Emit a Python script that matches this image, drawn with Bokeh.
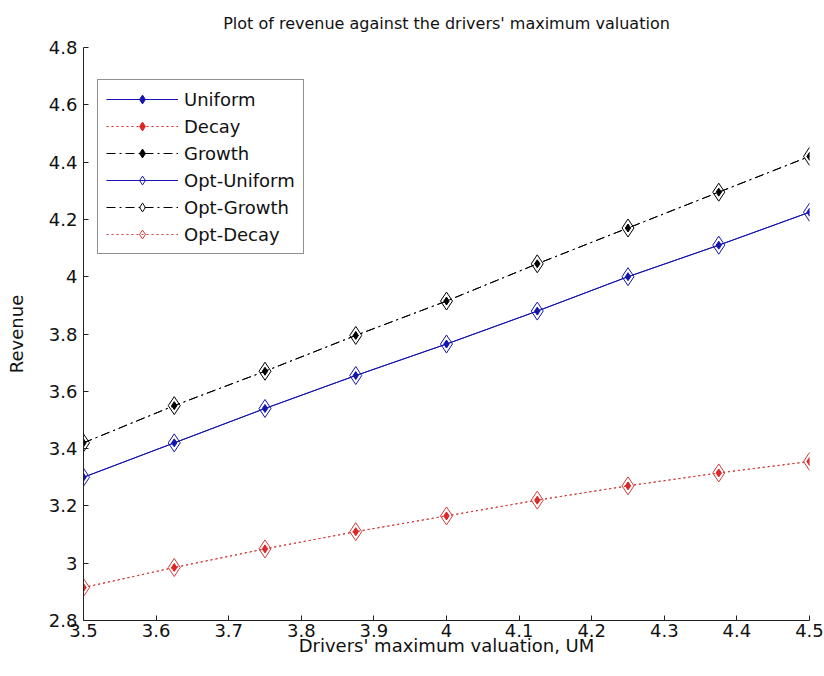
from bokeh.plotting import figure
from bokeh.models import Range1d, FixedTicker, Legend, LegendItem
from bokeh.embed import file_html
from bokeh.resources import INLINE

valuation = [3.5, 3.625, 3.75, 3.875, 4.0, 4.125, 4.25, 4.375, 4.5]
uniform = [3.30, 3.42, 3.54, 3.655, 3.765, 3.88, 4.00, 4.11, 4.225]
decay = [2.915, 2.985, 3.05, 3.11, 3.165, 3.22, 3.27, 3.315, 3.355]
growth = [3.42, 3.55, 3.67, 3.795, 3.915, 4.045, 4.17, 4.295, 4.42]
opt_uniform = [3.30, 3.42, 3.54, 3.655, 3.765, 3.88, 4.00, 4.11, 4.225]
opt_growth = [3.42, 3.55, 3.67, 3.795, 3.915, 4.045, 4.17, 4.295, 4.42]
opt_decay = [2.915, 2.985, 3.05, 3.11, 3.165, 3.22, 3.27, 3.315, 3.355]

x_ticks = [3.5, 3.6, 3.7, 3.8, 3.9, 4.0, 4.1, 4.2, 4.3, 4.4, 4.5]
x_tick_labels = ["3.5", "3.6", "3.7", "3.8", "3.9", "4", "4.1", "4.2", "4.3", "4.4", "4.5"]
y_ticks = [2.8, 3.0, 3.2, 3.4, 3.6, 3.8, 4.0, 4.2, 4.4, 4.6, 4.8]
y_tick_labels = ["2.8", "3", "3.2", "3.4", "3.6", "3.8", "4", "4.2", "4.4", "4.6", "4.8"]

FONT = "DejaVu Sans"
BLUE = "#1414b0"
RED = "#e02424"
RED2 = "#d03c3c"
BLACK = "#000000"
TEXT = "#111111"

p = figure(width=824, height=676, output_backend="svg", toolbar_location=None,
           x_range=Range1d(3.5, 4.5), y_range=Range1d(2.8, 4.8),
           title="Plot of revenue against the drivers' maximum valuation",
           min_border_left=83, min_border_right=15, min_border_top=47, min_border_bottom=56)

p.title.align = "center"
p.title.vertical_align = "top"
p.title.text_font = FONT
p.title.text_font_size = "16px"
p.title.text_font_style = "normal"
p.title.text_color = TEXT
p.title.offset = 0
p.title.standoff = 25

p.outline_line_color = None
p.xgrid.visible = False
p.ygrid.visible = False
p.background_fill_color = "white"
p.border_fill_color = "white"

p.xaxis.ticker = FixedTicker(ticks=x_ticks)
p.xaxis.major_label_overrides = {t: l for t, l in zip(x_ticks, x_tick_labels)}
p.yaxis.ticker = FixedTicker(ticks=y_ticks)
p.yaxis.major_label_overrides = {t: l for t, l in zip(y_ticks, y_tick_labels)}

for ax in (p.xaxis, p.yaxis):
    ax.major_tick_in = 5
    ax.major_tick_out = 0
    ax.minor_tick_in = 0
    ax.minor_tick_out = 0
    ax.major_label_text_font = FONT
    ax.major_label_text_font_size = "18px"
    ax.major_label_text_color = TEXT
    ax.axis_label_text_font = FONT
    ax.axis_label_text_font_size = "18px"
    ax.axis_label_text_font_style = "normal"
    ax.axis_label_text_color = TEXT
    ax.axis_line_color = "#222222"
    ax.major_tick_line_color = "#222222"

p.xaxis.axis_label = "Drivers' maximum valuation, UM"
p.yaxis.axis_label = "Revenue"
p.xaxis.major_label_standoff = 3
p.yaxis.major_label_standoff = 6
p.xaxis.axis_label_standoff = -5
p.yaxis.axis_label_standoff = 19

items = []

# Uniform
l1 = p.line(valuation, uniform, line_color=BLUE, line_width=1)
m1 = p.scatter(valuation, uniform, marker="diamond", size=8, fill_color=BLUE, line_color=BLUE)
items.append(LegendItem(label="Uniform", renderers=[l1, m1]))

# Decay
l2 = p.line(valuation, decay, line_color=RED, line_width=1, line_dash="2 3")
m2 = p.scatter(valuation, decay, marker="diamond", size=8, fill_color=RED, line_color=RED)
items.append(LegendItem(label="Decay", renderers=[l2, m2]))

# Growth
l3 = p.line(valuation, growth, line_color=BLACK, line_width=1, line_dash="9 4 2 4")
m3 = p.scatter(valuation, growth, marker="diamond", size=8, fill_color=BLACK, line_color=BLACK)
items.append(LegendItem(label="Growth", renderers=[l3, m3]))

# Opt-Uniform
l4 = p.line(valuation, opt_uniform, line_color=BLUE, line_width=1)
m4 = p.scatter(valuation, opt_uniform, marker="diamond", size=18, fill_color=None, line_color=BLUE)
items.append(LegendItem(label="Opt-Uniform", renderers=[l4, m4]))

# Opt-Growth
l5 = p.line(valuation, opt_growth, line_color=BLACK, line_width=1, line_dash="9 4 2 4")
m5 = p.scatter(valuation, opt_growth, marker="diamond", size=18, fill_color=None, line_color=BLACK)
items.append(LegendItem(label="Opt-Growth", renderers=[l5, m5]))

# Opt-Decay
l6 = p.line(valuation, opt_decay, line_color=RED2, line_width=1, line_dash="2 3")
m6 = p.scatter(valuation, opt_decay, marker="diamond", size=18, fill_color=None, line_color=RED2)
items.append(LegendItem(label="Opt-Decay", renderers=[l6, m6]))

legend = Legend(items=items, location=(14, 366))
legend.label_text_font = FONT
legend.label_text_font_size = "18px"
legend.label_text_color = TEXT
legend.glyph_width = 72
legend.glyph_height = 22
legend.label_height = 22
legend.label_standoff = 6
legend.spacing = 5
legend.padding = 8
legend.margin = 0
legend.border_line_color = "#222222"
legend.border_line_width = 1
legend.background_fill_color = "white"
legend.background_fill_alpha = 1.0
p.add_layout(legend, "center")

open("out.html", "w").write(file_html(p, INLINE))
